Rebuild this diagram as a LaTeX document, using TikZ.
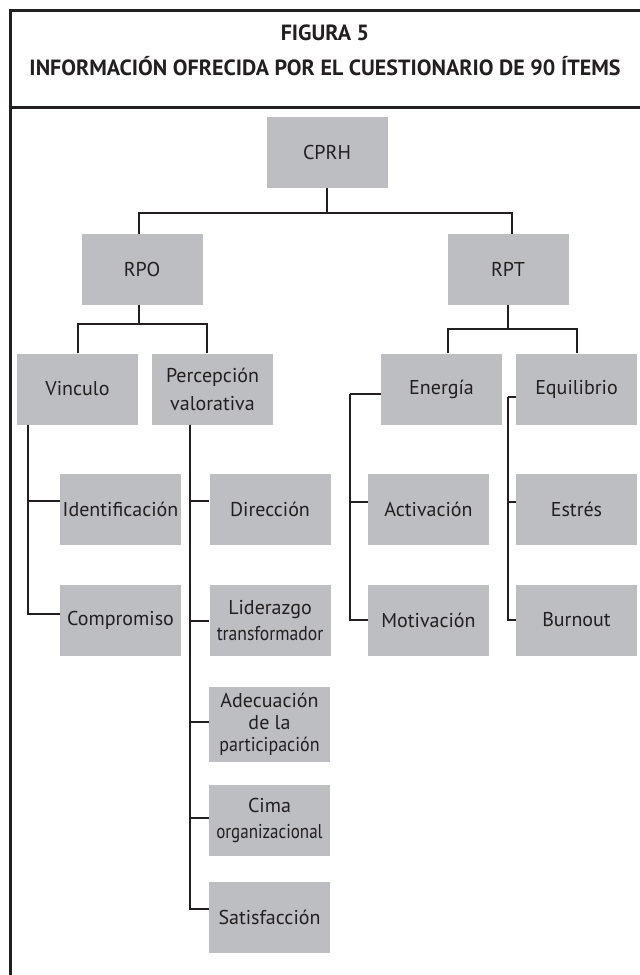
\documentclass[tikz,border=0pt]{standalone}
\usepackage{fontspec}
\setmainfont{PT Sans}
\usetikzlibrary{positioning}
\definecolor{boxgray}{HTML}{BDBEC1}
\definecolor{ink}{HTML}{231F20}
\begin{document}
\begin{tikzpicture}[x=1pt,y=-1pt,node distance=135pt,
  every node/.style={text=ink,inner sep=2pt},
  box/.style={fill=boxgray,minimum width=121pt,minimum height=71pt,align=center,
    font=\fontsize{20}{26}\selectfont},
  link/.style={draw=ink,line width=2pt},
  frame/.style={draw=ink,line width=3pt}]
  \useasboundingbox (0,0) rectangle (640,975);
  % frame and title
  \draw[frame] (640,10) -- (10,10) -- (10,980);
  \draw[frame] (10,107) -- (645,107);
  \node (fig) at (325,33) {\bfseries\fontsize{22}{26}\selectfont FIGURA 5};
  \node (tit) at (325,66) {\bfseries\fontsize{22}{26}\selectfont INFORMACIÓN OFRECIDA POR EL CUESTIONARIO DE 90 ÍTEMS};
  % boxes
  \node[box] (cprh) at (327,152.5) {CPRH};
  \node[box] (rpo) at (142,269.5) {RPO};
  \node[box] (rpt) at (508,269.5) {RPT};
  \node[box] (vinc) at (77.5,389) {Vinculo};
  \node[box,font=\fontsize{20}{28}\selectfont] (perc) [right of=vinc] {Percepción\\valorativa};
  \node[box] (ener) at (441.5,389) {Energía};
  \node[box] (equi) [right of=ener] {Equilibrio};
  \node[box] (iden) at (120.5,509) {Identificación};
  \node[box] (dire) at (270,509) {Dirección};
  \node[box] (acti) at (428.5,509) {Activación};
  \node[box] (estr) at (576.5,509) {Estrés};
  \node[box] (comp) at (120.5,620.5) {Compromiso};
  \node[box] (lide) at (270,620.5) {Liderazgo\\\scalebox{0.88}[1]{transformador}};
  \node[box] (moti) at (428.5,620) {Motivación};
  \node[box] (burn) at (576.5,620) {Burnout};
  \node[box,minimum height=75pt,font=\fontsize{20}{22}\selectfont] (adec) at (269.5,724.5) {Adecuación\\de la\\\scalebox{0.9}[1]{participación}};
  \node[box] (cima) at (269.5,820.5) {Cima\\\scalebox{0.85}[1]{organizacional}};
  \node[box] (sati) at (269.5,917.5) {Satisfacción};
  % connectors
  \draw[link] (cprh.south) -- ++(0,25) coordinate (top);
  \draw[link] ([xshift=-3pt]rpo.north) |- (top) -| ([xshift=4pt]rpt.north);
  \draw[link] ([xshift=-3pt]rpo.south) -- ++(0,19) coordinate (rpobar);
  \draw[link] (vinc.north) |- (rpobar) -| ([xshift=-6pt]perc.north);
  \draw[link] (rpt.south) -- ++(0,24) coordinate (rptbar);
  \draw[link] ([xshift=6pt]ener.north) |- (rptbar) -| (equi.north);
  \draw[link] ([xshift=11pt]vinc.south west) |- ([yshift=8pt]iden.west);
  \draw[link] ([xshift=11pt]vinc.south west) |- ([yshift=7pt]comp.west);
  \foreach \n/\s in {dire/8,lide/0,adec/2.5,cima/2.5,sati/8.5}
    \draw[link] ([xshift=38pt]perc.south west) |- ([yshift=\s pt]\n.west);
  \draw[link] ([yshift=-5pt]ener.west) -- ++(-31,0) coordinate (enerbar);
  \draw[link] (enerbar) |- ([yshift=7pt]acti.west);
  \draw[link] (enerbar) |- (moti.west);
  \draw[link] ([yshift=-8pt]equi.west) -- ++(-8,0) coordinate (equibar);
  \draw[link] (equibar) |- ([yshift=7pt]estr.west);
  \draw[link] (equibar) |- (burn.west);
\end{tikzpicture}
\end{document}
